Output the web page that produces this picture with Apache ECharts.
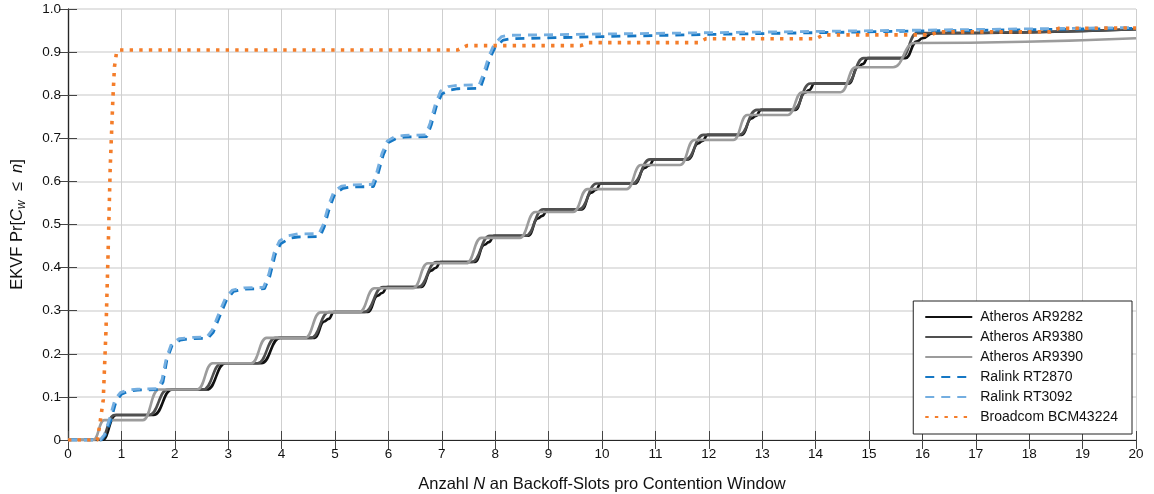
<!DOCTYPE html>
<html>
<head>
<meta charset="utf-8">
<script src="https://cdn.jsdelivr.net/npm/echarts@6/dist/echarts.min.js"></script>
<style>
html,body{margin:0;padding:0;background:#fff;}
#chart{width:1154px;height:494px;}
</style>
</head>
<body>
<div id="chart"></div>
<script>
// ---------- data ----------
const seriesNames = ['Atheros AR9282','Atheros AR9380','Atheros AR9390','Ralink RT2870','Ralink RT3092','Broadcom BCM43224'];

// Atheros AR9282: explicit points
const ar9282Points = [
  [0,0],[0.64,0],[0.9,0.058],
  [1.6,0.058],[1.95,0.117],
  [2.6,0.117],[2.95,0.178],
  [3.62,0.178],[3.97,0.237],
  [4.62,0.237],[4.8,0.275],[4.88,0.281],[4.98,0.297],
  [5.62,0.297],[5.8,0.335],[5.88,0.341],[5.98,0.355],
  [6.62,0.355],[6.8,0.393],[6.88,0.399],[6.98,0.413],
  [7.62,0.413],[7.8,0.453],[7.88,0.459],[7.98,0.474],
  [8.62,0.474],[8.8,0.514],[8.88,0.52],[8.98,0.535],
  [9.62,0.535],[9.8,0.574],[9.88,0.58],[9.98,0.595],
  [10.62,0.595],[10.8,0.631],[10.88,0.637],[10.98,0.651],
  [11.62,0.651],[11.8,0.688],[11.88,0.694],[11.98,0.708],
  [12.62,0.708],[12.8,0.746],[12.88,0.752],[12.98,0.766],
  [13.62,0.766],[13.8,0.806],[13.88,0.812],[13.98,0.827],
  [14.62,0.827],[14.8,0.866],[14.88,0.872],[14.98,0.886],
  [15.68,0.886],[15.9,0.925],[16.0,0.932],[16.2,0.944],
  [20,0.953]
];

// Atheros AR9380: rises [startX, endX, newLevel]
const ar9380Rises = [
  [0.6,0.87,0.058],[1.52,1.87,0.117],[2.53,2.88,0.178],[3.55,3.89,0.237],
  [4.55,4.89,0.297],[5.55,5.9,0.355],[6.56,6.9,0.413],[7.56,7.9,0.474],
  [8.57,8.9,0.535],[9.57,9.9,0.595],[10.57,10.9,0.651],[11.57,11.9,0.708],
  [12.57,12.9,0.766],[13.58,13.9,0.827],[14.58,14.9,0.886],[15.6,15.9,0.944]
];
const ar9380Tail = [20,0.953];

// Atheros AR9390: rises [startX, endX, newLevel]
const ar9390Rises = [
  [0.47,0.68,0.046],[1.4,1.7,0.117],[2.42,2.71,0.178],[3.43,3.72,0.237],
  [4.44,4.73,0.296],[5.45,5.74,0.352],[6.46,6.74,0.41],[7.46,7.74,0.469],
  [8.46,8.75,0.529],[9.46,9.73,0.582],[10.46,10.73,0.638],[11.46,11.73,0.696],
  [12.46,12.72,0.754],[13.48,13.75,0.807],[14.47,14.75,0.865],[15.45,15.85,0.921]
];
const ar9390Tail = [20,0.932];

// Ralink RT2870
const rt2870Points = [
  [0,0],[0.62,0],[0.7,0.012],[0.8,0.045],[0.9,0.09],[1.0,0.106],[1.15,0.114],[1.3,0.116],[1.7,0.117],
  [1.78,0.135],[1.85,0.185],[1.95,0.22],[2.1,0.232],[2.3,0.235],[2.62,0.236],
  [2.72,0.25],[2.85,0.29],[2.97,0.325],[3.1,0.345],[3.3,0.35],[3.68,0.351],
  [3.78,0.38],[3.88,0.43],[3.98,0.455],[4.15,0.468],[4.3,0.471],[4.72,0.472],
  [4.8,0.495],[4.9,0.54],[5.0,0.572],[5.15,0.584],[5.3,0.587],[5.72,0.588],
  [5.8,0.615],[5.9,0.66],[6.0,0.69],[6.15,0.7],[6.3,0.703],[6.72,0.704],
  [6.8,0.73],[6.9,0.775],[7.0,0.803],[7.15,0.812],[7.3,0.815],[7.72,0.816],
  [7.8,0.845],[7.9,0.885],[8.0,0.912],[8.15,0.928],[8.3,0.931],
  [10,0.936],[12,0.941],[14,0.945],[16,0.949],[18,0.952],[20,0.955]
];

// Ralink RT3092
const rt3092Points = [
  [0,0],[0.6,0],[0.68,0.012],[0.78,0.05],[0.88,0.095],[0.98,0.11],[1.12,0.116],[1.3,0.118],[1.68,0.119],
  [1.76,0.14],[1.84,0.19],[1.94,0.224],[2.08,0.235],[2.3,0.238],[2.6,0.239],
  [2.7,0.255],[2.83,0.295],[2.95,0.33],[3.08,0.348],[3.3,0.353],[3.66,0.354],
  [3.76,0.385],[3.86,0.435],[3.96,0.462],[4.12,0.474],[4.3,0.478],[4.7,0.479],
  [4.78,0.5],[4.88,0.545],[4.98,0.577],[5.12,0.589],[5.3,0.592],[5.7,0.593],
  [5.78,0.62],[5.88,0.665],[5.98,0.694],[6.12,0.704],[6.3,0.707],[6.7,0.708],
  [6.78,0.735],[6.88,0.78],[6.98,0.81],[7.12,0.82],[7.3,0.823],[7.7,0.824],
  [7.78,0.85],[7.88,0.89],[7.98,0.918],[8.12,0.936],[8.25,0.939],
  [10,0.942],[12,0.945],[14,0.948],[16,0.951],[18,0.954],[20,0.957]
];

// Broadcom BCM43224
const bcm43224Points = [
  [0,0],[0.55,0],[0.6,0.04],[0.66,0.093],[0.71,0.25],[0.75,0.43],[0.79,0.63],[0.84,0.79],[0.87,0.866],[0.91,0.9],[0.95,0.905],
  [7.3,0.905],[7.47,0.915],[9.6,0.915],[9.75,0.922],[11.8,0.922],[11.95,0.931],
  [14.0,0.931],[14.15,0.94],[16.15,0.94],[16.3,0.947],[18.4,0.947],[18.55,0.955],[20,0.956]
];

// ---------- build ----------
function risesToPoints(rises, tail) {
  const pts = [[0,0]];
  let prev = 0;
  rises.forEach(function (r) { pts.push([r[0], prev]); pts.push([r[1], r[2]]); prev = r[2]; });
  pts.push(tail);
  return pts;
}

const FONT = '"Liberation Sans", Arial, Helvetica, sans-serif';
const chart = echarts.init(document.getElementById('chart'), null, {renderer: 'canvas'});

const stepSeries = {type:'line', showSymbol:false, symbol:'none', smooth:0.5, smoothMonotone:'x', animation:false};
const plainSeries = {type:'line', showSymbol:false, symbol:'none', smooth:false, animation:false};

const option = {
  backgroundColor: '#ffffff',
  animation: false,
  grid: {left: 68, right: 18, top: 9, bottom: 54, show: false, containLabel: false, outerBoundsMode: 'none'},
  legend: {
    data: seriesNames,
    orient: 'vertical',
    right: 22, top: 301,
    itemWidth: 47, itemHeight: 14, itemGap: 6,
    padding: [9, 14, 10, 11],
    borderColor: '#222', borderWidth: 1,
    backgroundColor: '#ffffff',
    itemStyle: {opacity: 0},
    textStyle: {fontFamily: FONT, fontSize: 14, color: '#111', padding: [0, 0, 0, 3]}
  },
  xAxis: [{
    type: 'value', min: 0, max: 20, interval: 1,
    name: '{a|Anzahl }{i|N}{a| an Backoff-Slots pro Contention Window}',
    nameLocation: 'middle', nameGap: 36,
    nameTextStyle: {rich: {
      a: {fontFamily: FONT, fontSize: 16.5, color: '#111'},
      i: {fontFamily: FONT, fontSize: 16.5, color: '#111', fontStyle: 'italic'}
    }},
    axisLine: {show: true, lineStyle: {color: '#262626', width: 1.2}},
    axisTick: {show: true, inside: true, length: 9, lineStyle: {color: '#444', width: 1}},
    axisLabel: {fontFamily: FONT, fontSize: 13.5, color: '#111', margin: 7},
    splitLine: {show: true, lineStyle: {color: '#cfcfcf', width: 1}}
  }, {
    type: 'value', min: 0, max: 20, interval: 1, position: 'top',
    axisLine: {show: true, lineStyle: {color: '#262626', width: 1.2}},
    axisTick: {show: true, inside: true, length: 9, lineStyle: {color: '#444', width: 1}},
    axisLabel: {show: false}, splitLine: {show: false}
  }],
  yAxis: [{
    type: 'value', min: 0, max: 1, interval: 0.1,
    name: '{t|EKVF Pr[}{i|C}{s|w}{t|  ≤  }{i|n}{t|]}',
    nameLocation: 'middle', nameGap: 40, nameRotate: 90,
    nameTextStyle: {rich: {
      t: {fontFamily: FONT, fontSize: 16.5, color: '#111', lineHeight: 22},
      i: {fontFamily: FONT, fontSize: 16.5, color: '#111', fontStyle: 'italic', lineHeight: 22},
      s: {fontFamily: FONT, fontSize: 12, color: '#111', fontStyle: 'italic', lineHeight: 13, verticalAlign: 'bottom'}
    }},
    axisLine: {show: true, lineStyle: {color: '#262626', width: 1.2}},
    axisTick: {show: true, inside: true, length: 9, lineStyle: {color: '#444', width: 1}},
    axisLabel: {fontFamily: FONT, fontSize: 13.5, color: '#111', margin: 7,
      formatter: function (v) { return v === 0 ? '0' : v.toFixed(1); }},
    splitLine: {show: true, lineStyle: {color: '#dadada', width: 1.5}}
  }, {
    type: 'value', min: 0, max: 1, interval: 0.1, position: 'right',
    axisLine: {show: true, lineStyle: {color: '#262626', width: 1.2}},
    axisTick: {show: true, inside: true, length: 9, lineStyle: {color: '#444', width: 1}},
    axisLabel: {show: false}, splitLine: {show: false}
  }],
  series: [
    Object.assign({}, stepSeries, {name: seriesNames[0], data: ar9282Points, color: '#111111',
      lineStyle: {color: '#111111', width: 2.6}}),
    Object.assign({}, stepSeries, {name: seriesNames[1], data: risesToPoints(ar9380Rises, ar9380Tail), color: '#505050',
      lineStyle: {color: '#505050', width: 2.6}}),
    Object.assign({}, stepSeries, {name: seriesNames[2], data: risesToPoints(ar9390Rises, ar9390Tail), color: '#9c9c9c',
      lineStyle: {color: '#9c9c9c', width: 2.6}}),
    Object.assign({}, plainSeries, {name: seriesNames[3], data: rt2870Points, color: '#1577c4',
      lineStyle: {color: '#1577c4', width: 2.8, type: [9, 7]}}),
    Object.assign({}, plainSeries, {name: seriesNames[4], data: rt3092Points, color: '#74aee0',
      lineStyle: {color: '#74aee0', width: 2.8, type: [9, 7]}}),
    Object.assign({}, plainSeries, {name: seriesNames[5], data: bcm43224Points, color: '#f47d2a',
      lineStyle: {color: '#f47d2a', width: 3.6, type: [3.4, 6.2]}})
  ]
};
chart.setOption(option);
</script>
</body>
</html>
